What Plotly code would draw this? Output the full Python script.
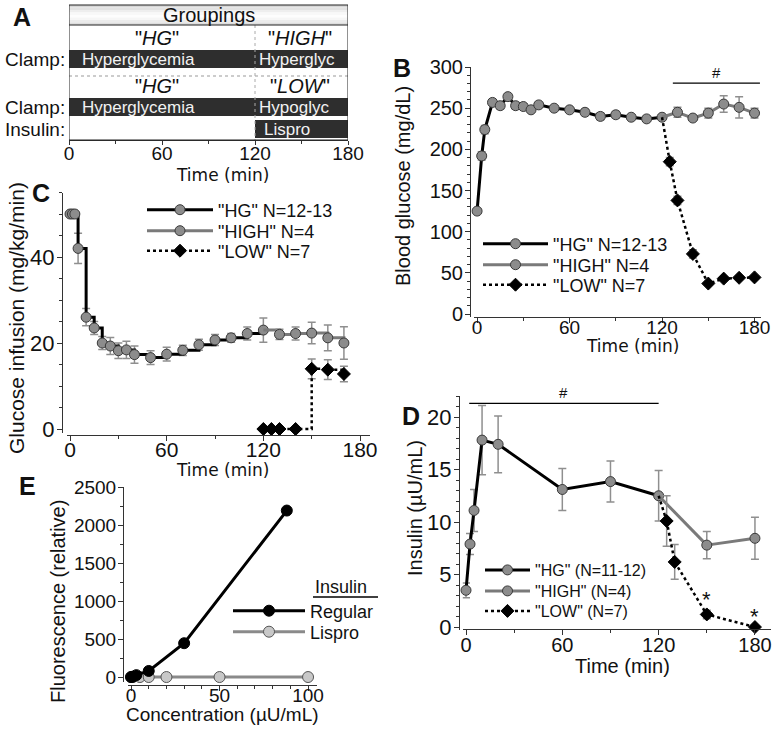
import plotly.graph_objects as go

W, H = 776, 730
def X(px): return px / W
def Y(py): return 1 - py / H

# ---------------- data ----------------
# Panel B: blood glucose (mg/dL)
hg_t_b = [0, 3, 5, 10, 15, 20, 25, 30, 35, 40, 50, 60, 70, 80, 90, 100, 110, 120]
hg_bg = [125, 192, 224, 257, 253, 264, 253, 252, 248, 254, 250, 248, 245, 240, 242, 239, 237, 239]
hg_bg_err = [2, 5, 5, 3, 4, 3, 4, 3, 3, 2, 3, 2, 4, 4, 4, 3, 2, 3]
high_t_b = [130, 140, 150, 160, 170, 180]
high_bg = [245, 238, 244, 255, 251, 244]
high_bg_err = [6, 3, 6, 10, 13, 6]
low_t_b = [125, 130, 140, 150, 160, 170, 180]
low_bg = [185, 138, 73, 37, 43, 44, 44.5]
low_bg_err = [5, 5, 5, 2, 2, 2, 2]

# Panel C: glucose infusion (mg/kg/min)
hg_t_c = [0, 1.5, 3, 5, 10, 15, 20, 25, 30, 35, 40, 50, 60, 70, 80, 90, 100, 110, 120]
hg_gir = [50, 50, 50, 42, 26, 23.5, 20, 19.3, 18.2, 18.4, 17.3, 16.6, 17.4, 18.3, 19.6, 20.7, 21.2, 22.2, 23.0]
hg_gir_err = [0, 0, 0, 3.5, 2, 1.5, 1.5, 2, 1.8, 2, 2, 1.6, 1.6, 1.2, 1.3, 1.3, 1, 1.5, 2.8]
high_t_c = [130, 140, 150, 160, 170]
high_gir = [22, 22.2, 22.3, 21.2, 20]
high_gir_err = [1.2, 1.5, 2.5, 3, 3.8]
low_t_c = [120, 125, 130, 140, 150, 160, 170]
low_gir = [0, 0, 0, 0, 14, 13.8, 12.8]
low_gir_err = [0, 0, 0, 0, 2.3, 2.3, 1.8]

# Panel D: insulin (uU/mL)
hg_t_d = [0, 2.5, 5, 10, 20, 60, 90, 120]
hg_ins = [3.5, 7.9, 11.1, 17.8, 17.4, 13.1, 13.85, 12.5]
hg_ins_err = [0.7, 1.0, 2.0, 3.3, 2.7, 2.0, 1.95, 2.4]
high_t_d = [150, 180]
high_ins = [7.8, 8.45]
high_ins_err = [1.3, 2.0]
low_t_d = [125, 130, 150, 180]
low_ins = [10.1, 6.2, 1.2, 0.0]
low_ins_err = [2.4, 1.65, 0.4, 0]

# Panel E: fluorescence vs concentration
reg_conc = [0, 1, 3, 10, 30, 88]
reg_fl = [0, 5, 25, 80, 445, 2190]
lis_conc = [0, 1, 5, 10, 20, 50, 100]
lis_fl = [0, 0, 0, 0, 0, 0, 0]

# Panel A: groupings table
phase_start = [0, 120]
phase_end = 180
n_col_end = 193
group_n = ["6", "7"]

names_b = ['"HG" N=12-13', '"HIGH" N=4', '"LOW" N=7']
names_d = ['"HG" (N=11-12)', '"HIGH" (N=4)', '"LOW" (N=7)']
names_e = ["Regular", "Lispro"]

# ---------------- styles ----------------
FONT = "Liberation Sans"
BLACK = "#111111"
MK_FILL = "#8c8c8c"
MK_LINE = "#3a3a3a"
ERR_C = "#8f8f8f"
HIGH_C = "#7a7a7a"

def err(vals):
    return dict(type="data", array=vals, color=ERR_C, thickness=1.5, width=4, visible=True)

def circ(size=10):
    return dict(symbol="circle", size=size, color=MK_FILL, line=dict(color=MK_LINE, width=1))

def diam(size=10):
    return dict(symbol="diamond", size=size, color="#000", line=dict(color="#000", width=1))

fig = go.Figure()

def add_panel(xa, ya, hg_t, hg_y, hg_e, hi_t, hi_y, hi_e, lo_t, lo_y, lo_e, names, legs, shape, low_connect):
    fig.add_trace(go.Scatter(x=hg_t, y=hg_y, error_y=err(hg_e), mode="lines+markers",
                             line=dict(color="#000", width=3, shape=shape), marker=circ(),
                             name=names[0], legend=legs[0], xaxis=xa, yaxis=ya, cliponaxis=False))
    fig.add_trace(go.Scatter(x=[hg_t[-1], hi_t[0]], y=[hg_y[-1], hi_y[0]], mode="lines",
                             line=dict(color=HIGH_C, width=3, shape=shape), showlegend=False,
                             xaxis=xa, yaxis=ya, hoverinfo="skip"))
    fig.add_trace(go.Scatter(x=hi_t, y=hi_y, error_y=err(hi_e), mode="lines+markers",
                             line=dict(color=HIGH_C, width=3, shape=shape), marker=circ(),
                             name=names[1], legend=legs[1], xaxis=xa, yaxis=ya, cliponaxis=False))
    if low_connect:
        fig.add_trace(go.Scatter(x=[hg_t[-1], lo_t[0]], y=[hg_y[-1], lo_y[0]], mode="lines",
                                 line=dict(color="#000", width=2.5, dash="dot", shape=shape), showlegend=False,
                                 xaxis=xa, yaxis=ya, hoverinfo="skip"))
    fig.add_trace(go.Scatter(x=lo_t, y=lo_y, error_y=err(lo_e), mode="lines+markers",
                             line=dict(color="#000", width=2.5, dash="dot", shape=shape), marker=diam(),
                             name=names[2], legend=legs[2], xaxis=xa, yaxis=ya, cliponaxis=False))

# B
add_panel("x", "y", hg_t_b, hg_bg, hg_bg_err, high_t_b, high_bg, high_bg_err,
          low_t_b, low_bg, low_bg_err, names_b, ["legend", "legend2", "legend3"], "linear", True)
# C
add_panel("x2", "y2", hg_t_c, hg_gir, hg_gir_err, high_t_c, high_gir, high_gir_err,
          low_t_c, low_gir, low_gir_err, names_b, ["legend4", "legend5", "legend6"], "hv", False)
# D
add_panel("x3", "y3", hg_t_d, hg_ins, hg_ins_err, high_t_d, high_ins, high_ins_err,
          low_t_d, low_ins, low_ins_err, names_d, ["legend7", "legend8", "legend9"], "linear", True)
# E
fig.add_trace(go.Scatter(x=lis_conc, y=lis_fl, mode="lines+markers",
                         line=dict(color="#8a8a8a", width=3),
                         marker=dict(symbol="circle", size=11, color="#c8c8c8", line=dict(color="#555", width=1)),
                         name=names_e[1], legend="legend11", xaxis="x4", yaxis="y4", cliponaxis=False))
fig.add_trace(go.Scatter(x=reg_conc, y=reg_fl, mode="lines+markers",
                         line=dict(color="#000", width=3),
                         marker=dict(symbol="circle", size=11, color="#000", line=dict(color="#000", width=1)),
                         name=names_e[0], legend="legend10", xaxis="x4", yaxis="y4", cliponaxis=False))
# A dummy (axis only)
fig.add_trace(go.Scatter(x=[], y=[], xaxis="x5", yaxis="y5", showlegend=False, hoverinfo="skip"))

# ---------------- axes ----------------
def ax(domain, rng, pos, dtick, minor, size, family=FONT, **kw):
    d = dict(domain=domain, range=rng, anchor="free", position=pos, dtick=dtick, tick0=0,
             showline=True, linecolor="#333", linewidth=1, ticks="outside", ticklen=5, tickwidth=1,
             tickcolor="#333", showgrid=False, zeroline=False,
             tickfont=dict(family=family, size=size, color=BLACK),
             minor=dict(dtick=minor, tick0=0, ticks="outside", ticklen=3, tickcolor="#333", showgrid=False))
    d.update(kw)
    return d

layout = dict(
    width=W, height=H, margin=dict(l=0, r=0, t=0, b=0),
    paper_bgcolor="white", plot_bgcolor="white", template="none",
    font=dict(family=FONT, color=BLACK),
    xaxis=ax([X(474), X(760.7)], [-2, 184], Y(317), 60, 30, 19, ticklabelstandoff=-12),
    yaxis=ax([Y(316.5), Y(67)], [-3, 300], X(470), 50, 10, 20, ticklabelstandoff=-2),
    xaxis2=ax([X(66.8), X(369.7)], [-2, 186], Y(435), 60, 30, 21, ticklabelstandoff=-9),
    yaxis2=ax([Y(433.3), Y(192.5)], [-1, 55], X(62), 20, 5, 22, ticklabelstandoff=-2),
    xaxis3=ax([X(462.8), X(771)], [-2, 190], Y(629), 60, 30, 20, ticklabelstandoff=-7),
    yaxis3=ax([Y(630.2), Y(396)], [-0.3, 22], X(459), 5, 1, 22, ticklabelstandoff=-2),
    xaxis4=ax([X(127.5), X(316.9)], [-2, 105], Y(685), 50, 10, 19, ticklabelstandoff=-12),
    yaxis4=ax([Y(681.6), Y(487)], [-60, 2500], X(123), 500, 250, 19, ticklabelstandoff=-2),
    xaxis5=ax([X(69), X(348)], [0, 180], Y(140), 60, 30, 19, ticklen=4, ticklabelstandoff=-8),
    yaxis5=dict(domain=[Y(140), Y(5)], range=[0, 1], visible=False, anchor="x5"),
)

def leg(xpx, ypx, size, w):
    return dict(x=X(xpx - 5), y=Y(ypx), xanchor="left", yanchor="middle",
                bgcolor="rgba(0,0,0,0)", borderwidth=0,
                font=dict(family=FONT, size=size, color=BLACK), itemwidth=w, tracegroupgap=0)

layout["legend"] = leg(483, 244, 18, 65)
layout["legend2"] = leg(483, 265, 18, 65)
layout["legend3"] = leg(483, 285, 18, 65)
layout["legend4"] = leg(147, 210, 18, 66)
layout["legend5"] = leg(147, 231, 18, 66)
layout["legend6"] = leg(147, 251, 18, 66)
layout["legend7"] = leg(485, 570, 16, 45)
layout["legend8"] = leg(485, 591, 16, 45)
layout["legend9"] = leg(485, 611, 16, 45)
layout["legend10"] = leg(233, 611, 18, 72)
layout["legend11"] = leg(233, 632, 18, 72)

fig.update_layout(**layout)

# ---------------- annotations ----------------
ann = []
def text(xpx, ypx, s, size, family=FONT, color=BLACK, xanchor="center", yanchor="middle", **kw):
    d = dict(x=X(xpx), y=Y(ypx), xref="paper", yref="paper", text=s, showarrow=False,
             font=dict(family=family, size=size, color=color), xanchor=xanchor, yanchor=yanchor)
    d.update(kw)
    ann.append(d)

def textA(t, ypx, s, size, color=BLACK, xanchor="center", family=FONT):
    ann.append(dict(x=t, y=Y(ypx), xref="x5", yref="paper", text=s, showarrow=False,
                    font=dict(family=family, size=size, color=color), xanchor=xanchor, yanchor="middle"))

def textD(xa, ya, x, y, s, size, **kw):
    d = dict(x=x, y=y, xref=xa, yref=ya, text=s, showarrow=False,
             font=dict(family=FONT, size=size, color=BLACK), xanchor="center", yanchor="middle")
    d.update(kw)
    ann.append(d)

# panel letters
text(22, 17, "<b>A</b>", 25)
text(402, 68, "<b>B</b>", 25)
text(41, 193, "<b>C</b>", 25)
text(411, 416, "<b>D</b>", 25)
text(27, 486, "<b>E</b>", 25)

# axis titles
text(223, 175, "Time (min)", 17, family="DejaVu Sans")
text(632, 346, "Time (min)", 17, family="DejaVu Sans")
text(223, 470, "Time (min)", 17, family="DejaVu Sans")
text(622, 666, "Time (min)", 20)
text(223, 714, "Concentration (µU/mL)", 19)
text(403, 186, "Blood glucose (mg/dL)", 20, textangle=-90)
text(16, 318, "Glucose infusion (mg/kg/min)", 21, textangle=-90)
text(415, 508, "Insulin (µU/mL)", 20, textangle=-90)
text(58, 602, "Fluorescence (relative)", 20, textangle=-90)

# panel A table text
textA(90, 15, "Groupings", 20)
textA((phase_end + n_col_end) / 2, 15, "N", 20)
textA(57, 38, '"<i>HG</i>"', 20)
textA(149, 38, '"<i>HIGH</i>"', 20)
textA(57, 86, '"<i>HG</i>"', 20)
textA(149, 86, '"<i>LOW</i>"', 20)
textA(7, 59, "Hyperglycemia", 17, color="#f2f2f2", xanchor="left")
textA(121.5, 59, "Hyperglyc", 17, color="#f2f2f2", xanchor="left")
textA(7, 107, "Hyperglycemia", 17, color="#f2f2f2", xanchor="left")
textA(121.5, 107, "Hypoglyc", 17, color="#f2f2f2", xanchor="left")
textA(124.5, 129, "Lispro", 17, color="#f2f2f2", xanchor="left")
textA((phase_end + n_col_end) / 2, 53, group_n[0], 20)
textA((phase_end + n_col_end) / 2, 106, group_n[1], 20)
text(67, 59, "Clamp:", 19, xanchor="right")
text(67, 107, "Clamp:", 19, xanchor="right")
text(67, 129, "Insulin:", 19, xanchor="right")

# significance marks
textD("x", "y", 155.5, 280.5, "#", 15, yanchor="bottom")
textD("x3", "y3", 61, 21.3, "#", 15, yanchor="bottom")
textD("x3", "y3", 150, 2.6, "*", 22)
textD("x3", "y3", 180, 1.0, "*", 22)

# E legend title
text(313, 587, "Insulin", 18, xanchor="left")

fig.update_layout(annotations=ann)

# ---------------- shapes ----------------
shapes = []
# header gradient strips (panel A)
grad = ["#d6d6d6", "#e2e2e2", "#eeeeee", "#f8f8f8", "#fdfdfd", "#f6f6f6", "#ebebeb", "#dddddd"]
top, bot = 5, 25
step = (bot - top) / len(grad)
for i, c in enumerate(grad):
    shapes.append(dict(type="rect", xref="x5", yref="paper", x0=0, x1=n_col_end,
                       y0=Y(top + i * step), y1=Y(top + (i + 1) * step), fillcolor=c, line=dict(width=0), layer="below"))
# bars
for y0, y1, xs in [(50, 68, phase_start[0]), (98, 116, phase_start[0]), (120, 138, phase_start[1])]:
    shapes.append(dict(type="rect", xref="x5", yref="paper", x0=xs, x1=phase_end, y0=Y(y1), y1=Y(y0),
                       fillcolor="#2e2e2e", line=dict(width=0), layer="below"))
# grid lines
shapes.append(dict(type="line", xref="x5", yref="paper", x0=0, x1=phase_end, y0=Y(76), y1=Y(76),
                   line=dict(color="#999", width=1, dash="dot")))
shapes.append(dict(type="line", xref="x5", yref="paper", x0=phase_start[1], x1=phase_start[1], y0=Y(25), y1=Y(140),
                   line=dict(color="#aaa", width=1, dash="dot")))
shapes.append(dict(type="line", xref="x5", yref="paper", x0=0, x1=n_col_end, y0=Y(25), y1=Y(25),
                   line=dict(color="#222", width=1)))
shapes.append(dict(type="line", xref="x5", yref="paper", x0=phase_end, x1=phase_end, y0=Y(5), y1=Y(140),
                   line=dict(color="#222", width=1)))
shapes.append(dict(type="rect", xref="x5", yref="paper", x0=0, x1=n_col_end, y0=Y(140), y1=Y(5),
                   line=dict(color="#222", width=1), fillcolor="rgba(0,0,0,0)"))
# significance bars
shapes.append(dict(type="line", xref="x", yref="y", x0=127, x1=183.5, y0=280.5, y1=280.5,
                   line=dict(color="#000", width=1.2)))
shapes.append(dict(type="line", xref="x3", yref="y3", x0=2, x1=120, y0=21.3, y1=21.3,
                   line=dict(color="#000", width=1.2)))
# E legend title underline
shapes.append(dict(type="line", xref="paper", yref="paper", x0=X(313), x1=X(378), y0=Y(597), y1=Y(597),
                   line=dict(color="#000", width=1.5)))
fig.update_layout(shapes=shapes)

fig.write_html("out.html", config={"displayModeBar": False},
               post_script="document.body.style.margin='0px';document.body.style.overflow='hidden';")
